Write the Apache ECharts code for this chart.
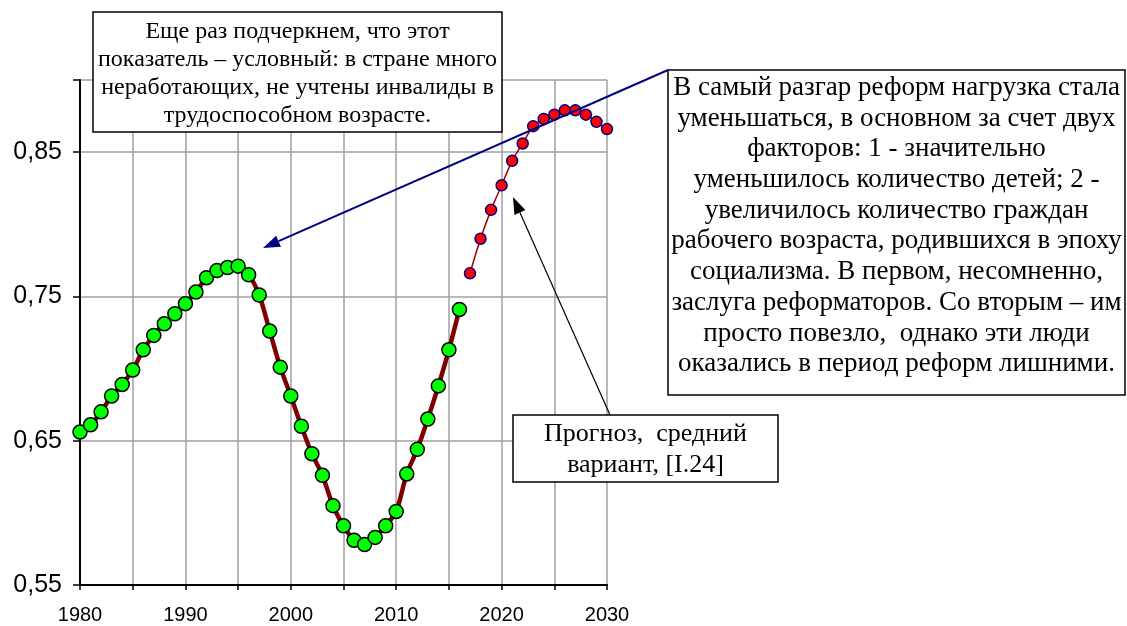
<!DOCTYPE html>
<html>
<head>
<meta charset="utf-8">
<script src="https://cdn.jsdelivr.net/npm/echarts@6/dist/echarts.min.js"></script>
<style>
html,body{margin:0;padding:0;background:#fff;}
#chart{width:1127px;height:626px;}
</style>
</head>
<body>
<div id="chart"></div>
<script>
// ---- data ----
const yearsActual = [1980,1981,1982,1983,1984,1985,1986,1987,1988,1989,1990,1991,1992,1993,1994,1995,1996,1997,1998,1999,2000,2001,2002,2003,2004,2005,2006,2007,2008,2009,2010,2011,2012,2013,2014,2015,2016];
const valuesActual = [0.656,0.661,0.670,0.681,0.689,0.699,0.713,0.723,0.731,0.738,0.745,0.753,0.763,0.768,0.770,0.771,0.765,0.751,0.726,0.701,0.681,0.660,0.641,0.626,0.605,0.591,0.581,0.578,0.583,0.591,0.601,0.627,0.644,0.665,0.688,0.713,0.741];
const yearsForecast = [2017,2018,2019,2020,2021,2022,2023,2024,2025,2026,2027,2028,2029,2030];
const valuesForecast = [0.766,0.790,0.810,0.827,0.844,0.856,0.868,0.873,0.876,0.879,0.879,0.876,0.871,0.866];
const yTickValues = [0.55,0.65,0.75,0.85];
const xLabelYears = [1980,1990,2000,2010,2020,2030];

const noteTop = "Еще раз подчеркнем, что этот\nпоказатель – условный: в стране много\nнеработающих, не учтены инвалиды в\nтрудоспособном возрасте.";
const noteRight = "В самый разгар реформ нагрузка стала\nуменьшаться, в основном за счет двух\nфакторов: 1 - значительно\nуменьшилось количество детей; 2 -\nувеличилось количество граждан\nрабочего возраста, родившихся в эпоху\nсоциализма. В первом, несомненно,\nзаслуга реформаторов. Со вторым – им\nпросто повезло,  однако эти люди\nоказались в период реформ лишними.";
const noteForecast = "Прогноз,  средний\nвариант, [I.24]";

const zip = (xs, ys) => xs.map((x, i) => [x, ys[i]]);

function arrow(x1, y1, x2, y2, color, width, headLen, headW) {
  const a = Math.atan2(y2 - y1, x2 - x1);
  const bx = x2 - headLen * Math.cos(a), by = y2 - headLen * Math.sin(a);
  const px = -Math.sin(a) * headW, py = Math.cos(a) * headW;
  return [
    {type:'line', z:100, shape:{x1:x1,y1:y1,x2:bx,y2:by}, style:{stroke:color,lineWidth:width}},
    {type:'polygon', z:100, shape:{points:[[x2,y2],[bx+px,by+py],[bx-px,by-py]]}, style:{fill:color}}
  ];
}

const serif = '"Liberation Serif","Times New Roman",serif';
const chart = echarts.init(document.getElementById('chart'), null, {renderer:'canvas'});
const option = {
  animation:false,
  backgroundColor:'#fff',
  grid:{left:80,right:520,top:80,bottom:41},
  xAxis:{
    type:'value', min:1980, max:2030, interval:5,
    axisLine:{show:true, onZero:false, lineStyle:{color:'#000', width:2}},
    axisTick:{show:true, inside:false, length:5, lineStyle:{color:'#000', width:1.5}},
    axisLabel:{margin:20, color:'#000', fontFamily:'"Liberation Sans",Arial,sans-serif', fontSize:20,
      formatter:v => xLabelYears.indexOf(v) >= 0 ? String(v) : ''},
    splitLine:{show:true, lineStyle:{color:'#a0a0a0', width:1.5}}
  },
  yAxis:{
    type:'value', min:0.55, max:0.9, interval:0.1,
    axisLine:{show:true, onZero:false, lineStyle:{color:'#000', width:2}},
    axisTick:{show:true, inside:false, length:7, lineStyle:{color:'#000', width:1.5}},
    axisLabel:{margin:18, color:'#000', fontFamily:'"Liberation Sans",Arial,sans-serif', fontSize:25,
      formatter:v => yTickValues.some(t => Math.abs(t - v) < 1e-6) ? v.toFixed(2).replace('.', ',') : ''},
    splitLine:{show:true, lineStyle:{color:'#a0a0a0', width:1.5}}
  },
  series:[
    {type:'line', data:zip(yearsActual, valuesActual), smooth:0.3,
      lineStyle:{color:'#800000', width:4.5},
      symbol:'circle', symbolSize:14,
      itemStyle:{color:'#00ff00', borderColor:'#000', borderWidth:1.5}, z:3},
    {type:'line', data:zip(yearsForecast, valuesForecast), smooth:0.3,
      lineStyle:{color:'#990000', width:1.5},
      symbol:'circle', symbolSize:11,
      itemStyle:{color:'#ff0000', borderColor:'#000080', borderWidth:1.5}, z:3}
  ],
  graphic:[
    {type:'rect', z:90, shape:{x:93,y:12,width:409,height:120}, style:{fill:'#fff', stroke:'#000', lineWidth:1.5}},
    {type:'text', z:91, style:{text:noteTop, x:297.5, y:74, textAlign:'center', textVerticalAlign:'middle',
      fontFamily:serif, fontSize:24, lineHeight:28, fill:'#000'}},
    {type:'rect', z:90, shape:{x:668,y:70,width:457,height:325}, style:{fill:'#fff', stroke:'#000', lineWidth:1.5}},
    {type:'text', z:91, style:{text:noteRight, x:896.5, y:226, textAlign:'center', textVerticalAlign:'middle',
      fontFamily:serif, fontSize:27, lineHeight:30.7, fill:'#000'}},
    {type:'rect', z:90, shape:{x:513,y:415,width:265,height:67}, style:{fill:'#fff', stroke:'#000', lineWidth:1.5}},
    {type:'text', z:91, style:{text:noteForecast, x:645.5, y:450, textAlign:'center', textVerticalAlign:'middle',
      fontFamily:serif, fontSize:26, lineHeight:31, fill:'#000'}},
    ...arrow(668, 70, 263, 248, '#000080', 2, 17, 6),
    ...arrow(610, 415, 513, 197, '#000', 1.2, 17, 6)
  ]
};
chart.setOption(option);
</script>
</body>
</html>
